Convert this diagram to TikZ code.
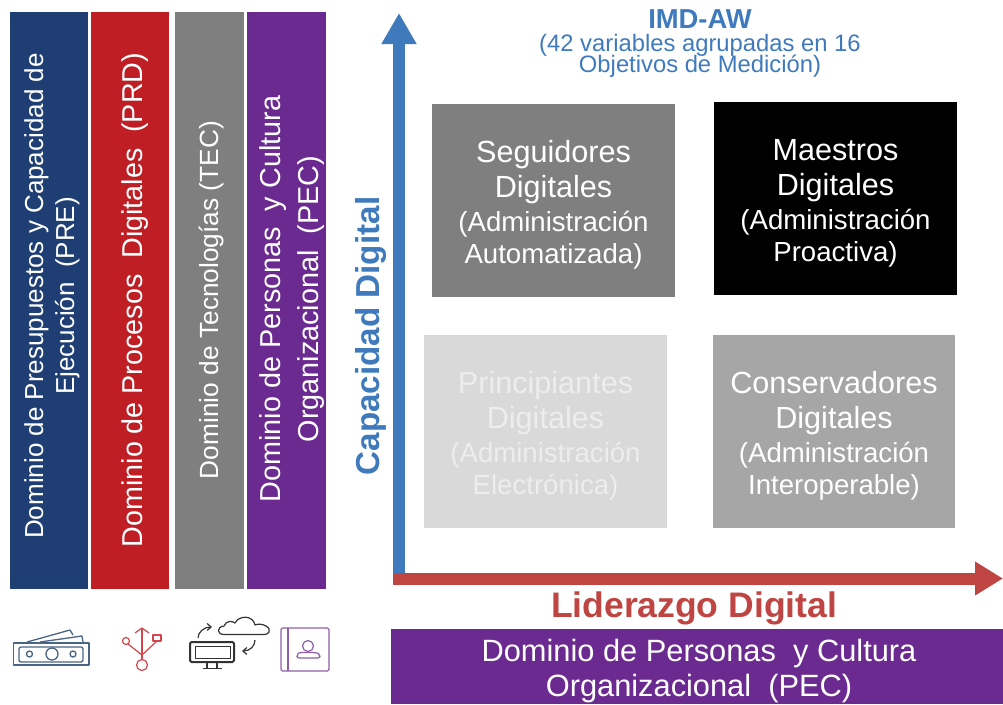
\documentclass[tikz,border=0pt]{standalone}
\usepackage{fontspec}
\setmainfont{Liberation Sans}
\usetikzlibrary{arrows.meta}
\definecolor{navy}{HTML}{1F3F74}
\definecolor{redbar}{HTML}{BE1E24}
\definecolor{graybar}{HTML}{7F7F7F}
\definecolor{purplebar}{HTML}{6A2A8F}
\definecolor{axisblue}{HTML}{3F7ABD}
\definecolor{axisred}{HTML}{BF4542}
\definecolor{iconnavy}{HTML}{4A6484}
\definecolor{iconred}{HTML}{D4444C}
\definecolor{iconpurple}{HTML}{8E5FA8}
\tikzset{
 barbox/.style={inner sep=0pt,outer sep=0pt,text=white,align=center},
 quadbox/.style={inner sep=0pt,outer sep=0pt,align=center,text=white,font=\fontsize{27.6}{32}\selectfont},
 axisline/.style={line width=12pt},
}
\newcommand{\qbig}[1]{{\fontsize{30.6}{32}\selectfont #1}}
\begin{document}
\begin{tikzpicture}[x=1pt,y=-1pt]
\useasboundingbox (0,0) rectangle (1003,704);
% vertical bars
\fill[navy] (10,12) rectangle (88,589);
\fill[redbar] (91,12) rectangle (169,589);
\fill[graybar] (175,12) rectangle (244,589);
\fill[purplebar] (247,12) rectangle (326,589);
\node[barbox,rotate=90,font=\fontsize{26}{31}\selectfont] (pre) at (52,296) {Dominio de Presupuestos y Capacidad de\\Ejecución\ \ (PRE)};
\node[barbox,rotate=90,font=\fontsize{28.7}{31}\selectfont] (prd) at (135,300) {Dominio de Procesos\ \ Digitales\ \ (PRD)};
\node[barbox,rotate=90,font=\fontsize{26.3}{31}\selectfont] (tec) at (212,300) {Dominio de Tecnologías (TEC)};
\node[barbox,rotate=90,font=\fontsize{28.8}{38}\selectfont] (pec) at (292,299) {Dominio de Personas\ \ y Cultura\\Organizacional\ \ (PEC)};
% quadrants
\fill[graybar] (432,104) rectangle (675,297);
\fill[black] (714,102) rectangle (957,295);
\fill[black!15] (424,335) rectangle (667,528);
\fill[black!35] (713,335) rectangle (955,528);
\node[quadbox] (seg) at (553.5,204.5) {\qbig{Seguidores}\\[3pt]\qbig{Digitales}\\[2pt](Administración\\Automatizada)};
\node[quadbox] (mae) at (835.5,203.5) {\qbig{Maestros}\\[3pt]\qbig{Digitales}\\[2pt](Administración\\Proactiva)};
\node[quadbox,text=white!93!black] (pri) at (545.5,436) {\qbig{Principiantes}\\[3pt]\qbig{Digitales}\\[2pt](Administración\\Electrónica)};
\node[quadbox] (con) at (834,436) {\qbig{Conservadores}\\[3pt]\qbig{Digitales}\\[2pt](Administración\\Interoperable)};
% axes
\coordinate (o1) at (399,584);
\coordinate (ytip) at (399,13);
\coordinate (o2) at (393,578.5);
\coordinate (xtip) at (1003,578.5);
\draw[axisline,axisblue,-{Triangle[length=31pt,width=33pt]}] (o1) -- (ytip);
\draw[axisline,axisred,-{Triangle[length=28pt,width=32pt]}] (o2) -- (xtip);
\node[text=axisblue,rotate=90,font=\bfseries\fontsize{33.2}{36}\selectfont,inner sep=0pt] (cap) at (371,336) {Capacidad Digital};
\node[text=axisred,font=\bfseries\fontsize{35.5}{36}\selectfont,inner sep=0pt] (lid) at (694,608) {Liderazgo Digital};
\node[text=axisblue,align=center,inner sep=0pt,font=\fontsize{23.8}{21}\selectfont] (imd) at (700,43.5) {{\bfseries\fontsize{27.4}{21}\selectfont IMD-AW}\\[2pt](42 variables agrupadas en 16\\[-2pt]Objetivos de Medición)};
% bottom band
\fill[purplebar] (391,629) rectangle (1003,704);
\node[text=white,align=center,inner sep=0pt,font=\fontsize{30.8}{35}\selectfont] (band) at (699,671) {Dominio de Personas\ \ y Cultura\\Organizacional\ \ (PEC)};
% icon: money
\begin{scope}[iconnavy,line width=1.3pt,line join=round]
\draw (13.5,643) rectangle (89,665);
\draw[rounded corners=2pt] (19,647) rectangle (83,662);
\draw (52,654) circle (6);
\draw (29.5,654) circle (3);
\draw (73,654) circle (3);
\draw (27,642) -- (70,630) -- (73,635);
\draw (40,642) -- (82,636) -- (83,642);
\end{scope}
% icon: usb
\begin{scope}[iconred,line width=1.2pt,line join=round]
\draw (142,660) -- (142,628);
\draw (135,633) -- (142,628) -- (149,633);
\draw (142,665) circle (5.5);
\draw (126,641) circle (3.5);
\draw (153,635) rectangle (161,641);
\draw (142,655) -- (128,644);
\draw (142,655) -- (157,641);
\end{scope}
% icon: monitor and cloud
\begin{scope}[black!80,line join=round]
\draw[line width=2pt,rounded corners=1.5pt] (190,642) rectangle (234,662);
\draw[line width=1pt] (195,646) rectangle (230,658);
\draw[line width=1.2pt] (207,663) -- (207,668) (217,663) -- (217,668) (203,668.5) -- (222,668.5);
\draw[line width=1.2pt] (224,634.5) .. controls (217,634.5) and (216,627) .. (224,626) .. controls (226,620) and (233,621) .. (235,623) .. controls (239,615) and (253,615) .. (255,625) .. controls (262,622) and (272,628) .. (269,632) .. controls (268,634) and (266,634.5) .. (264,634.5) -- cycle;
\draw[line width=1.2pt,-{Straight Barb[length=4pt,width=7pt]}] (198,638) .. controls (198,632) and (204,627) .. (212,627);
\draw[line width=1.2pt,-{Straight Barb[length=4pt,width=7pt]}] (255,640) .. controls (255,646) and (250,651) .. (242,651);
\end{scope}
% icon: book
\begin{scope}[iconpurple,line width=1.2pt,line join=round]
\draw[rounded corners=1.5pt] (281,628) rectangle (329,671);
\draw (288,628) -- (288,671);
\draw (308,646) circle (5.5);
\draw[rounded corners=2pt] (297,658) -- (297,655) .. controls (299,652) and (317,652) .. (320,655) -- (320,658) -- cycle;
\end{scope}
\end{tikzpicture}
\end{document}
